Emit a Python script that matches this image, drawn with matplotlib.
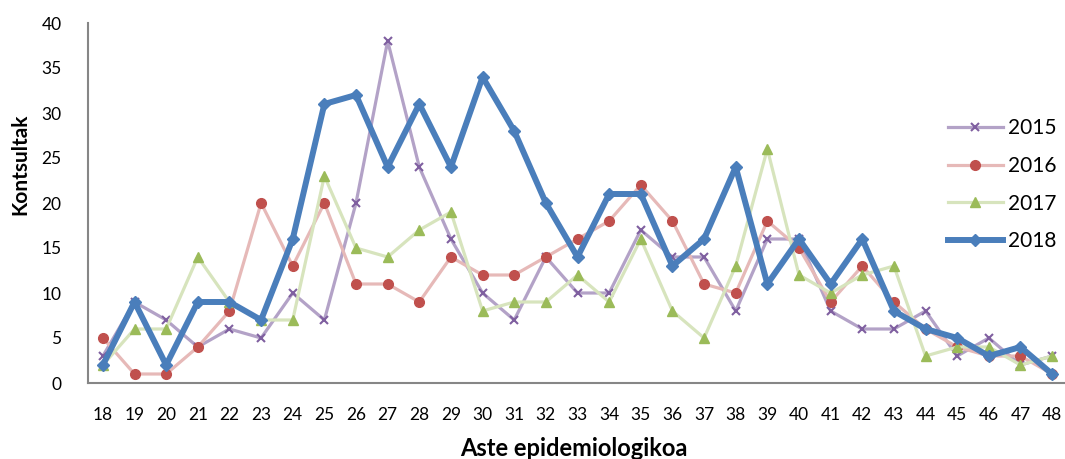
import matplotlib
matplotlib.use("Agg")
import matplotlib.pyplot as plt

weeks = list(range(18, 49))
cases_2015 = [3, 9, 7, 4, 6, 5, 10, 7, 20, 38, 24, 16, 10, 7, 14, 10, 10, 17, 14, 14,
              8, 16, 16, 8, 6, 6, 8, 3, 5, 2, 3]
cases_2016 = [5, 1, 1, 4, 8, 20, 13, 20, 11, 11, 9, 14, 12, 12, 14, 16, 18, 22, 18, 11,
              10, 18, 15, 9, 13, 9, 6, 4, 3, 3, 1]
cases_2017 = [2, 6, 6, 14, 9, 7, 7, 23, 15, 14, 17, 19, 8, 9, 9, 12, 9, 16, 8, 5,
              13, 26, 12, 10, 12, 13, 3, 4, 4, 2, 3]
cases_2018 = [2, 9, 2, 9, 9, 7, 16, 31, 32, 24, 31, 24, 34, 28, 20, 14, 21, 21, 13, 16,
              24, 11, 16, 11, 16, 8, 6, 5, 3, 4, 1]
years = ["2015", "2016", "2017", "2018"]

plt.rcParams["font.family"] = ["Lato", "DejaVu Sans"]

W, H = 1065, 459
fig = plt.figure(figsize=(W / 100, H / 100), dpi=100)
left, right, top, bottom = 88, 1067, 23, 383
ax = fig.add_axes([left / W, 1 - bottom / H, (right - left) / W, (bottom - top) / H])

styles = [
    dict(color="#B3A2C7", lw=2.3, marker="x", ms=6, mec="#7F5FA0", mfc="#7F5FA0", mew=1.5),
    dict(color="#E6B9B8", lw=2.3, marker="o", ms=7, mec="#C0504D", mfc="#C0504D"),
    dict(color="#D7E4BD", lw=2.3, marker="^", ms=7, mec="#9BBB59", mfc="#9BBB59"),
    dict(color="#4A7EBB", lw=4.3, marker="D", ms=6.5, mec="#4A7EBB", mfc="#4A7EBB"),
]
for year, vals, st in zip(years, [cases_2015, cases_2016, cases_2017, cases_2018], styles):
    ax.plot(weeks, vals, label=year, clip_on=False, **st)

ax.set_xlim(17.53, 48.47)
ax.set_ylim(0, 40)
ax.set_yticks(range(0, 41, 5))
ax.set_xticks(weeks)
ax.tick_params(axis="both", length=0, labelsize=12.5)
ax.tick_params(axis="x", pad=17)
ax.tick_params(axis="y", pad=19)

for s in ["top", "right"]:
    ax.spines[s].set_visible(False)
for s in ["left", "bottom"]:
    ax.spines[s].set_color("#868686")
    ax.spines[s].set_linewidth(1.5)

fig.text(20 / W, 1 - 164 / H, "Kontsultak", fontsize=15, fontweight="bold",
         rotation=90, ha="center", va="center")
fig.text(574 / W, 1 - 449 / H, "Aste epidemiologikoa", fontsize=17, fontweight="bold",
         ha="center", va="center")

leg = ax.legend(loc="upper left",
                bbox_to_anchor=((940 - left) / (right - left), 1 - (110 - top) / (bottom - top)),
                frameon=False, fontsize=15, handlelength=2.6, labelspacing=0.85,
                handletextpad=0.25, borderaxespad=0)

fig.savefig("out.png", dpi=100)
